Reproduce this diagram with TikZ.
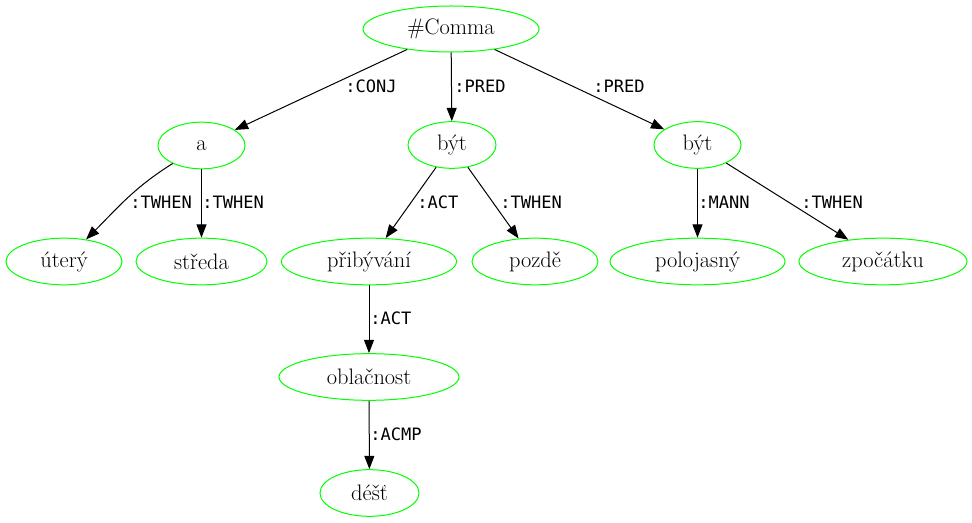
\documentclass[tikz,border=0pt]{standalone}
\usepackage{fontspec}
\newfontfamily\lblfont{DejaVu Sans Mono}
\usetikzlibrary{shapes.geometric,arrows.meta}
\definecolor{gvgreen}{RGB}{0,255,0}
\begin{document}
\begin{tikzpicture}[x=0.75pt,y=0.75pt,
  tnode/.style={ellipse,draw=gvgreen,line width=0.75pt,inner sep=0pt,minimum height=35pt,font=\fontsize{16.8}{20}\selectfont},
  lbl/.style={anchor=west,inner sep=0pt,font=\lblfont\fontsize{12.8}{15}\selectfont},
  edge/.style={draw=black,line width=0.75pt,-{Triangle[length=10pt,width=7.5pt]}}]
\useasboundingbox (0,0) rectangle (972,-523);
% nodes
\node[tnode,minimum width=132pt,minimum height=34.5pt] (comma) at (451,-29) {\#Comma};
\node[tnode,minimum width=65.25pt] (a) at (201.5,-145.5) {a};
\node[tnode,minimum width=66pt] (byt1) at (452,-145) {být};
\node[tnode,minimum width=65.25pt] (byt2) at (697.5,-145) {být};
\node[tnode,minimum width=87pt] (utery) at (64,-261.5) {úterý};
\node[tnode,minimum width=98.25pt] (streda) at (201.5,-261.5) {středa};
\node[tnode,minimum width=131.25pt] (prib) at (369,-261.5) {přibývání};
\node[tnode,minimum width=94.5pt] (pozde) at (535,-261.5) {pozdě};
\node[tnode,minimum width=131.25pt] (polo) at (697.5,-261.5) {polojasný};
\node[tnode,minimum width=126pt] (zpoc) at (883,-261.5) {zpočátku};
\node[tnode,minimum width=135pt] (oblac) at (369,-377) {oblačnost};
\node[tnode,minimum width=74.25pt] (dest) at (369.5,-493) {déšť};
% edges
\draw[edge] (comma) -- (a);
\draw[edge] (comma) -- (byt1);
\draw[edge] (comma) -- (byt2);
\draw[edge] (a) to[out=212,in=45] (utery);
\draw[edge] (a) -- (streda);
\draw[edge] (byt1) -- (prib);
\draw[edge] (byt1) -- (pozde);
\draw[edge] (byt2) -- (polo);
\draw[edge] (byt2) -- (zpoc);
\draw[edge] (prib) -- (oblac);
\draw[edge] (oblac) -- (dest);
% labels
\node[lbl] (l1) at (345,-86) {:CONJ};
\node[lbl] (l2) at (454,-86) {:PRED};
\node[lbl] (l3) at (593,-86) {:PRED};
\node[lbl] (l4) at (130,-202) {:TWHEN};
\node[lbl] (l5) at (202,-202) {:TWHEN};
\node[lbl] (l6) at (417,-202) {:ACT};
\node[lbl] (l7) at (500,-202) {:TWHEN};
\node[lbl] (l8) at (698,-202) {:MANN};
\node[lbl] (l9) at (801,-202) {:TWHEN};
\node[lbl] (l10) at (370,-318) {:ACT};
\node[lbl] (l11) at (370,-434) {:ACMP};
\end{tikzpicture}
\end{document}
